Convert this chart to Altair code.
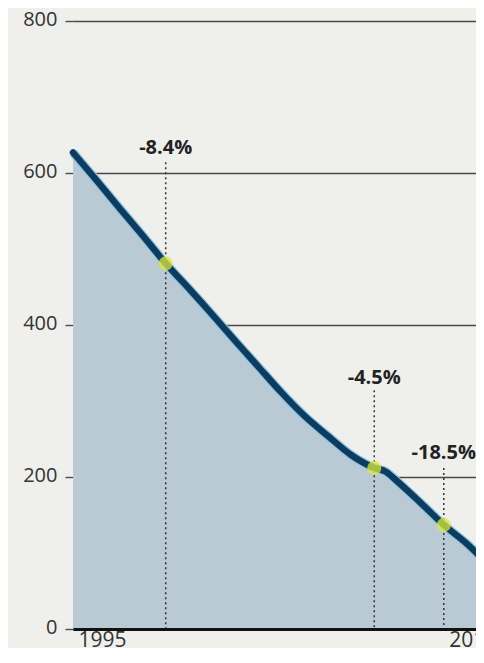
import altair as alt
import pandas as pd

# series
years = [1995, 1996, 1997, 1998, 1999, 2000, 2001, 2002, 2003, 2004, 2005,
         2006, 2007, 2008, 2008.5, 2009, 2010, 2011, 2012, 2013]
values = [627, 591, 554, 518, 481, 448, 414, 379, 345, 311, 280,
          254, 229, 212, 207, 194, 166, 137, 112, 82]

# annotations
ann_years = [1999, 2008, 2011]
ann_values = [481, 212, 137]
ann_labels = ["-8.4%", "-4.5%", "-18.5%"]
ann_label_y = [633, 330, 232]
ann_rule_top = [614, 314, 212]

y_ticks = [0, 200, 400, 600, 800]
x_ticks = [1995, 2011]

df = pd.DataFrame({"year": years, "value": values})
ann = pd.DataFrame({"year": ann_years, "value": ann_values, "label": ann_labels,
                    "ly": ann_label_y, "top": ann_rule_top})

W, H = 403, 608
xs = alt.Scale(domain=[1995, 2012.39], nice=False, zero=False)
ys = alt.Scale(domain=[0, 800], nice=False)

x_axis = alt.Axis(values=x_ticks, format="d", title=None, grid=False, ticks=False,
                  domain=True, domainColor="#111111", domainWidth=3,
                  labelAlign="left", labelOffset=5, labelFlush=False, labelOverlap=False,
                  labelFont="Open Sans", labelFontSize=21, labelColor="#333333",
                  labelPadding=0, labelBound=False, zindex=1)
y_axis = alt.Axis(values=y_ticks, title=None, grid=True, gridColor="#4a4a4a", gridWidth=1.4,
                  ticks=True, tickSize=8, tickColor="#4a4a4a", tickWidth=1.4,
                  domain=False, labelFont="Open Sans", labelFontSize=20,
                  labelColor="#333333", labelPadding=8, labelBaseline="middle",
                  labelOffset=-2)

base = alt.Chart(df)

area = base.mark_area(color="#b9cad5", interpolate="monotone", opacity=1).encode(
    x=alt.X("year:Q", scale=xs, axis=x_axis),
    y=alt.Y("value:Q", scale=ys, axis=y_axis),
)

edge = base.mark_line(color="#8fc3e0", strokeWidth=9, interpolate="monotone").encode(
    x=alt.X("year:Q", scale=xs), y=alt.Y("value:Q", scale=ys)
)

line = base.mark_line(color="#0c3d60", strokeWidth=6.5, interpolate="monotone",
                      strokeCap="round").encode(
    x=alt.X("year:Q", scale=xs), y=alt.Y("value:Q", scale=ys)
)

rules = alt.Chart(ann).mark_rule(color="#333333", strokeWidth=1.5, strokeDash=[2, 3]).encode(
    x=alt.X("year:Q", scale=xs), y=alt.Y("top:Q", scale=ys), y2=alt.datum(0)
)

glow = alt.Chart(ann).mark_circle(color="#dbe83a", opacity=0.75, size=200).encode(
    x=alt.X("year:Q", scale=xs), y=alt.Y("value:Q", scale=ys)
)

labels = alt.Chart(ann).mark_text(font="Open Sans", fontWeight="bold", fontSize=20,
                                  color="#222222", align="center", baseline="middle").encode(
    x=alt.X("year:Q", scale=xs), y=alt.Y("ly:Q", scale=ys), text="label:N"
)

chart = alt.layer(area, rules, edge, line, glow, labels).properties(
    width=W, height=H,
    background="#efefec",
    padding={"left": 65, "top": 13, "right": 0, "bottom": 19},
    autosize=alt.AutoSizeParams(type="none"),
).configure_view(stroke=None)

chart.save("out.html", embed_options={"renderer": "svg", "actions": False})
